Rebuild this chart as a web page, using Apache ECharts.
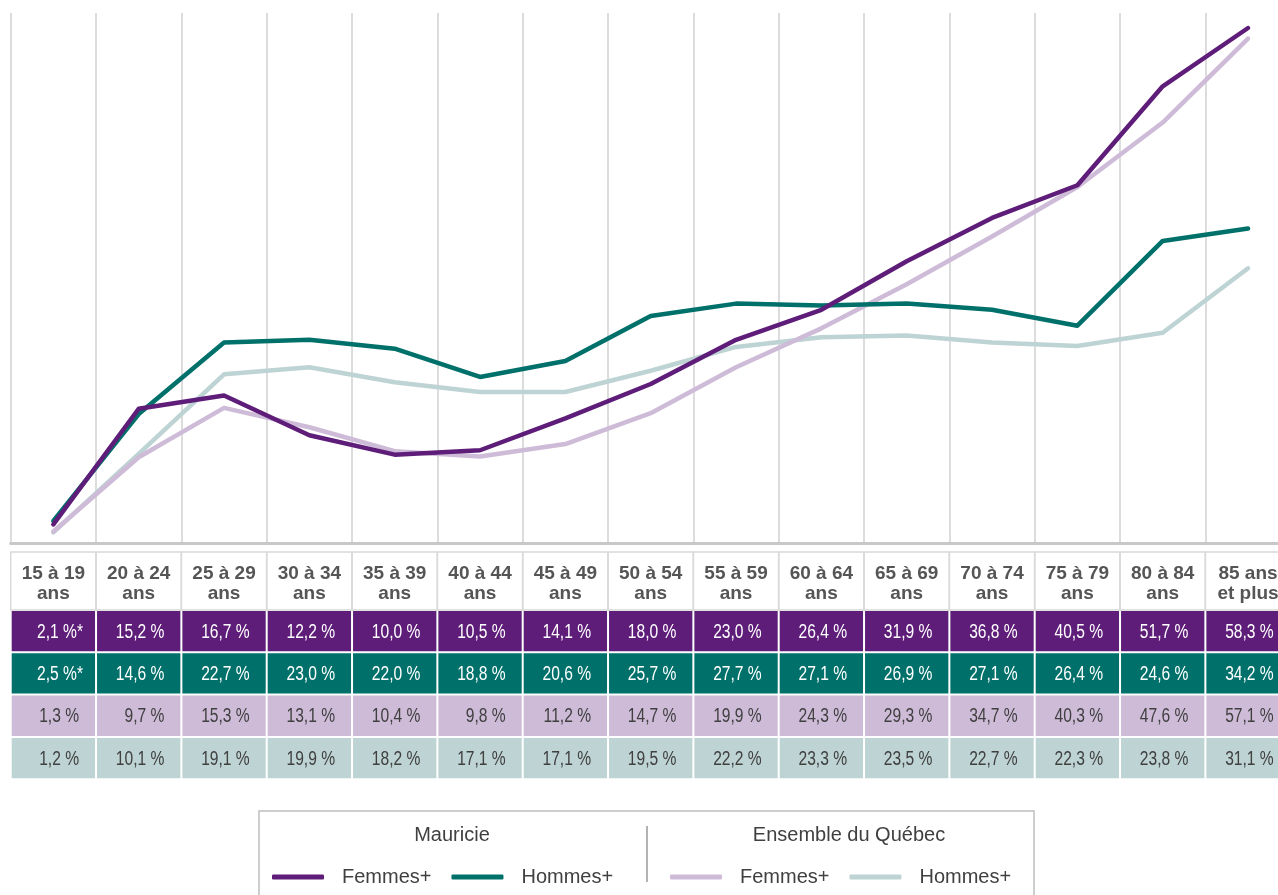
<!DOCTYPE html>
<html>
<head>
<meta charset="utf-8">
<script src="https://cdn.jsdelivr.net/npm/echarts@6/dist/echarts.min.js"></script>
<style>
  html, body { margin: 0; padding: 0; background: #fff; }
  #chart { width: 1278px; height: 895px; }
</style>
</head>
<body>
<div id="chart"></div>
<script>
// groupes d'âge (en-tête du tableau)
var ageGroups = ['15 à 19\nans', '20 à 24\nans', '25 à 29\nans', '30 à 34\nans', '35 à 39\nans',
  '40 à 44\nans', '45 à 49\nans', '50 à 54\nans', '55 à 59\nans', '60 à 64\nans',
  '65 à 69\nans', '70 à 74\nans', '75 à 79\nans', '80 à 84\nans', '85 ans\net plus'];

// Mauricie (valeurs du tableau)
var mauricieFemmes = [2.1, 15.2, 16.7, 12.2, 10.0, 10.5, 14.1, 18.0, 23.0, 26.4, 31.9, 36.8, 40.5, 51.7, 58.3];
var mauricieHommes = [2.5, 14.6, 22.7, 23.0, 22.0, 18.8, 20.6, 25.7, 27.7, 27.1, 26.9, 27.1, 26.4, 24.6, 34.2];
// la courbe Hommes+ tracée dans le graphique ne suit pas exactement le tableau
var mauricieHommesCourbe = [2.5, 14.6, 22.7, 23.0, 22.0, 18.8, 20.6, 25.7, 27.1, 26.9, 27.1, 26.4, 24.6, 34.2, 35.6];
// Ensemble du Québec
var quebecFemmes = [1.3, 9.7, 15.3, 13.1, 10.4, 9.8, 11.2, 14.7, 19.9, 24.3, 29.3, 34.7, 40.3, 47.6, 57.1];
var quebecHommes = [1.2, 10.1, 19.1, 19.9, 18.2, 17.1, 17.1, 19.5, 22.2, 23.3, 23.5, 22.7, 22.3, 23.8, 31.1];
// valeurs à interpréter avec prudence (*)
var mauricieFemmesStar = [0];
var mauricieHommesStar = [0];

var C_VIOLET = '#5f1d7a';
var C_VERT = '#00706a';
var C_VIOLET_PALE = '#cebbd8';
var C_VERT_PALE = '#bed3d3';

var SANS = '"Liberation Sans", Arial, sans-serif';

var myChart = echarts.init(document.getElementById('chart'));

function fmt(v, star) {
  return v.toFixed(1).replace('.', ',') + ' %' + (star ? '*' : '');
}

var series = [
  { name: 'Hommes+ (Québec)', data: quebecHommes, color: C_VERT_PALE },
  { name: 'Femmes+ (Québec)', data: quebecFemmes, color: C_VIOLET_PALE },
  { name: 'Hommes+ (Mauricie)', data: mauricieHommesCourbe, color: C_VERT },
  { name: 'Femmes+ (Mauricie)', data: mauricieFemmes, color: C_VIOLET }
].map(function (s, i) {
  return {
    name: s.name,
    type: 'line',
    data: s.data,
    color: s.color,
    symbol: 'none',
    z: 2 + i,
    lineStyle: { width: 4.5, color: s.color, cap: 'round', join: 'round' }
  };
});

var legendCommon = {
  top: 862,
  icon: 'roundRect',
  itemWidth: 52,
  itemHeight: 5,
  itemGap: 20,
  selectedMode: false,
  formatter: function (name) { return name.split(' ')[0]; },
  textStyle: { fontFamily: SANS, fontSize: 20, color: '#404040', padding: [0, 0, 0, 13] }
};

myChart.setOption({
  animation: false,
  // la dernière colonne dépasse le bord droit
  grid: { left: 10.7, width: 1280, top: 13, bottom: 352, outerBoundsMode: 'none', containLabel: false },
  legend: [
    Object.assign({ left: 267, data: ['Femmes+ (Mauricie)', 'Hommes+ (Mauricie)'] }, legendCommon),
    Object.assign({ left: 665, data: ['Femmes+ (Québec)', 'Hommes+ (Québec)'] }, legendCommon)
  ],
  xAxis: {
    type: 'category',
    data: ageGroups,
    boundaryGap: true,
    axisLine: { show: true, lineStyle: { color: '#c8c8c8', width: 3 } },
    axisTick: { show: false },
    axisLabel: {
      interval: 0,
      margin: 21,
      fontFamily: SANS,
      fontWeight: 'bold',
      fontSize: 19,
      lineHeight: 20,
      color: '#555555'
    },
    splitLine: { show: true, interval: 0, lineStyle: { color: '#d0d0d0', width: 1.5 } }
  },
  yAxis: {
    type: 'value',
    min: 0,
    max: 60,
    show: false,
    splitLine: { show: false }
  },
  series: series
});

// tableau de données sous le graphique
function buildTable() {
  var x0 = myChart.convertToPixel({ xAxisIndex: 0 }, 0);
  var x1 = myChart.convertToPixel({ xAxisIndex: 0 }, 1);
  var cw = x1 - x0;
  var headTop = 552, headH = 58, rowH = 42.3;
  var rows = [
    { data: mauricieFemmes, stars: mauricieFemmesStar, bg: C_VIOLET, fg: '#ffffff' },
    { data: mauricieHommes, stars: mauricieHommesStar, bg: C_VERT, fg: '#ffffff' },
    { data: quebecFemmes, stars: [], bg: C_VIOLET_PALE, fg: '#404040' },
    { data: quebecHommes, stars: [], bg: C_VERT_PALE, fg: '#404040' }
  ];
  var els = [];
  ageGroups.forEach(function (g, i) {
    var cx = myChart.convertToPixel({ xAxisIndex: 0 }, i);
    var left = cx - cw / 2;
    els.push({
      type: 'rect', z: -1, silent: true,
      shape: { x: left, y: headTop, width: cw, height: headH },
      style: { fill: 'none', stroke: '#d9d9d9', lineWidth: 1.5 }
    });
    rows.forEach(function (r, j) {
      var top = headTop + headH + j * rowH;
      var star = r.stars.indexOf(i) >= 0;
      els.push({
        type: 'rect', silent: true,
        shape: { x: left + 1, y: top + 1, width: cw - 2, height: rowH - 2 },
        style: { fill: r.bg }
      });
      // police étroite simulée (Arial Narrow absente)
      els.push({
        type: 'text', silent: true,
        x: left + cw - (star ? 13 : 17),
        y: top + rowH / 2 + 1,
        scaleX: 0.78,
        style: {
          text: fmt(r.data[i], star),
          fill: r.fg,
          font: '20px ' + SANS,
          textAlign: 'right',
          textVerticalAlign: 'middle'
        }
      });
    });
  });

  // cadre de la légende
  els.push({
    type: 'rect', silent: true,
    shape: { x: 259, y: 811, width: 775, height: 100 },
    style: { fill: 'none', stroke: '#bfbfbf', lineWidth: 1.5 }
  });
  els.push({
    type: 'line', silent: true,
    shape: { x1: 647, y1: 826, x2: 647, y2: 882 },
    style: { stroke: '#9a9a9a', lineWidth: 1.5 }
  });
  els.push({
    type: 'text', silent: true, x: 452, y: 835,
    style: { text: 'Mauricie', fill: '#404040', font: '20px ' + SANS, textAlign: 'center', textVerticalAlign: 'middle' }
  });
  els.push({
    type: 'text', silent: true, x: 849, y: 835,
    style: { text: 'Ensemble du Québec', fill: '#404040', font: '20px ' + SANS, textAlign: 'center', textVerticalAlign: 'middle' }
  });

  myChart.setOption({ graphic: els });
}

buildTable();
</script>
</body>
</html>
